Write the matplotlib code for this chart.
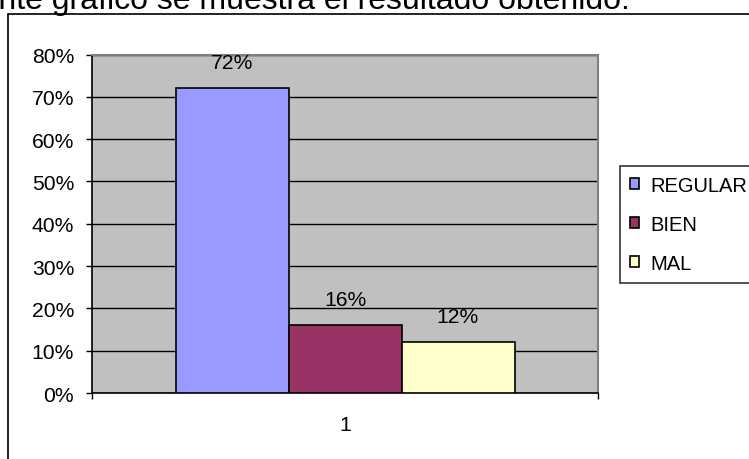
import matplotlib
matplotlib.use("Agg")
import matplotlib.pyplot as plt
from matplotlib.patches import Rectangle
from matplotlib.ticker import PercentFormatter

plt.rcParams['font.family'] = ['Liberation Sans', 'DejaVu Sans']

series = ["REGULAR", "BIEN", "MAL"]
values = [72, 16, 12]
labels = ["72%", "16%", "12%"]
category = "1"
yticks = [0, 10, 20, 30, 40, 50, 60, 70, 80]
colors = ["#9999FF", "#993366", "#FFFFCC"]

W, H = 749, 460
fig = plt.figure(figsize=(W / 100, H / 100), dpi=100)

# cropped caption at top
fig.text(630 / W, 1 - 8.5 / H, "En el siguiente gráfico se muestra el resultado obtenido.",
         ha='right', va='baseline', fontsize=23, color='black')

# outer chart border
fig.patches.append(Rectangle((8 / W, -0.1), 1.2, 1.1 - 15 / H,
                             transform=fig.transFigure, fill=False,
                             edgecolor='black', linewidth=1.2))

ax = fig.add_axes([92 / W, 1 - 394 / H, 506 / W, 338.5 / H])
ax.set_facecolor('#C0C0C0')

bw = 113 / 506
offsets = [-bw, 0, bw]
for name, v, c, o, lab in zip(series, values, colors, offsets, labels):
    ax.bar(o, v, width=bw, color=c, edgecolor='black', linewidth=1.2,
           label=name, zorder=3)
    ax.annotate(lab, (o, v), xytext=(0, 14.4), textcoords='offset points',
                ha='center', va='baseline', fontsize=15.2, zorder=4)

ax.set_xlim(-0.5, 0.5)
ax.set_ylim(0, 80)
ax.set_yticks(yticks)
ax.yaxis.set_major_formatter(PercentFormatter(decimals=0))
ax.yaxis.grid(True, color='black', linewidth=1.0, zorder=1)
ax.set_axisbelow(True)

ax.set_xticks([-0.5, 0.5])
ax.set_xticklabels(["", ""])
ax.set_xticks([0], minor=True)
ax.set_xticklabels([category], minor=True)
ax.tick_params(axis='x', which='major', length=4.3, width=1, direction='out', color='black')
ax.tick_params(axis='x', which='minor', length=0, pad=16, labelsize=15.2)
ax.tick_params(axis='y', length=4.3, width=1, direction='out', pad=8.6, labelsize=15.2)

ax.spines['left'].set_color('black')
ax.spines['bottom'].set_color('black')
ax.spines['left'].set_linewidth(1.2)
ax.spines['bottom'].set_linewidth(1.2)
ax.spines['top'].set_color('#808080')
ax.spines['right'].set_color('#808080')
ax.spines['top'].set_linewidth(1.5)
ax.spines['right'].set_linewidth(1.5)

leg = fig.legend(loc='upper left', bbox_to_anchor=(620 / W, 1 - 167 / H),
                 bbox_transform=fig.transFigure, borderaxespad=0,
                 fontsize=14.5, frameon=True, fancybox=False, shadow=False,
                 handlelength=0.45, handleheight=0.45, handletextpad=0.55,
                 borderpad=0.5, labelspacing=0.98)
leg.get_frame().set_edgecolor('black')
leg.get_frame().set_linewidth(1.2)
leg.get_frame().set_facecolor('white')

fig.savefig("out.png", dpi=100)
